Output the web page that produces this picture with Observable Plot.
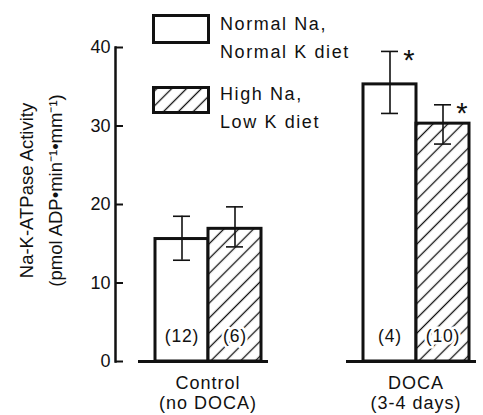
<!DOCTYPE html>
<html>
<head>
<meta charset="utf-8">
<script src="https://cdn.jsdelivr.net/npm/d3@7"></script>
<script src="https://cdn.jsdelivr.net/npm/@observablehq/plot@0.6"></script>
<style>
  html, body { margin: 0; padding: 0; background: white; }
  #wrap { position: relative; width: 483px; height: 415px; font-family: "Liberation Sans", Arial, sans-serif; }
  .leg-text { position: absolute; left: 220px; font-size: 18px; line-height: 28px; letter-spacing: 1.6px; color: #111; white-space: nowrap; }
  .sw { position: absolute; left: 152px; }
  g[aria-label="fx-axis tick label"] text { letter-spacing: 1px; }
  g.nlab text { letter-spacing: 0.8px; }
</style>
</head>
<body>
<svg width="0" height="0" style="position:absolute">
  <defs>
    <pattern id="hatch" patternUnits="userSpaceOnUse" width="10.5" height="10.5" patternTransform="rotate(45)">
      <rect width="10.5" height="10.5" fill="white"></rect>
      <line x1="5.25" y1="-1" x2="5.25" y2="11.5" stroke="#111" stroke-width="1.3"></line>
    </pattern>
  </defs>
</svg>
<div id="wrap">
  <div id="chart"></div>
  <svg class="sw" style="top:14px" width="58" height="30"><rect x="1.5" y="1.5" width="55" height="27" fill="white" stroke="#111" stroke-width="3"></rect></svg>
  <div class="leg-text" style="top:10px">Normal Na,<br>Normal K diet</div>
  <svg class="sw" style="top:86px" width="58" height="28"><rect x="1.5" y="1.5" width="55" height="25" fill="url(#hatch)" stroke="#111" stroke-width="3"></rect></svg>
  <div class="leg-text" style="top:80px">High Na,<br>Low K diet</div>
</div>
<script>
const groups = ["Control", "DOCA"];
const groupLabels = ["Control\n(no DOCA)", "DOCA\n(3-4 days)"];
const series = ["Normal Na, Normal K diet", "High Na, Low K diet"];
const meanNormal = [15.6, 35.3];
const meanHigh = [16.9, 30.3];
const hiNormal = [18.5, 39.5];
const loNormal = [12.9, 31.6];
const hiHigh = [19.7, 32.7];
const loHigh = [14.6, 27.7];
const nNormal = [12, 4];
const nHigh = [6, 10];
const sigNormal = [false, true];
const sigHigh = [false, true];
const yTicks = [0, 10, 20, 30, 40];
const yLabel = "Na-K-ATPase Activity\n(pmol ADP•min⁻¹•mm⁻¹)";

const rows = [];
groups.forEach((g, i) => {
  rows.push({group: g, series: series[0], mean: meanNormal[i], hi: hiNormal[i], lo: loNormal[i], n: nNormal[i], sig: sigNormal[i]});
  rows.push({group: g, series: series[1], mean: meanHigh[i], hi: hiHigh[i], lo: loHigh[i], n: nHigh[i], sig: sigHigh[i]});
});

const chart = Plot.plot({
  width: 483,
  height: 415,
  marginLeft: 115,
  marginRight: 0,
  marginTop: 47,
  marginBottom: 54,
  style: {fontFamily: "Liberation Sans, Arial, sans-serif", fontSize: "17px", background: "transparent", color: "#111", overflow: "visible"},
  fx: {domain: groups, paddingInner: 0.235, paddingOuter: 0, align: 0.5, axis: null, label: null},
  x: {domain: series, paddingInner: 0, paddingOuter: 0.477, align: 0.757, axis: null, label: null},
  y: {domain: [0, 40], axis: null},
  color: {domain: series, range: ["white", "url(#hatch)"]},
  marks: [
    Plot.barY(rows, {fx: "group", x: "series", y: "mean", fill: "series", stroke: "#111", strokeWidth: 3}),
    Plot.text(rows, {fx: "group", x: "series", y: 0, text: d => `(${d.n})`, dy: -25, fontSize: 17.5, fill: "#111", stroke: "white", strokeWidth: 5, className: "nlab"}),
    Plot.ruleX(rows, {fx: "group", x: "series", y1: "lo", y2: "hi", stroke: "#111", strokeWidth: 1.6}),
    Plot.tickY(rows, {fx: "group", x: "series", y: "hi", inset: 18, stroke: "#111", strokeWidth: 1.6}),
    Plot.tickY(rows, {fx: "group", x: "series", y: "lo", inset: 18, stroke: "#111", strokeWidth: 1.6}),
    Plot.text(rows.filter(d => d.sig), {fx: "group", x: "series", y: "hi", text: () => "*", dx: 19, dy: 9, fontSize: 29, fill: "#111"}),
    Plot.ruleY([0], {insetLeft: 23, insetRight: 6, stroke: "#111", strokeWidth: 3}),
    Plot.frame({anchor: "left", facetAnchor: "left", stroke: "#111", strokeWidth: 2.5}),
    Plot.axisY({ticks: yTicks, tickSize: -8, tickPadding: 13, strokeWidth: 2, fontSize: 18, label: null}),
    Plot.text([yLabel], {text: d => d, frameAnchor: "left", facetAnchor: "left", rotate: -90, lineAnchor: "top", textAnchor: "middle",
      dx: -104, dy: -14, fontSize: 18.5, lineHeight: 1.6, fill: "#111"}),
    Plot.axisFx({anchor: "bottom", tickSize: 0, tickPadding: 13, fontSize: 18, lineHeight: 1.12, dx: 13,
      tickFormat: g => groupLabels[groups.indexOf(g)], label: null})
  ]
});
document.getElementById("chart").appendChild(chart);
</script>
</body>
</html>
